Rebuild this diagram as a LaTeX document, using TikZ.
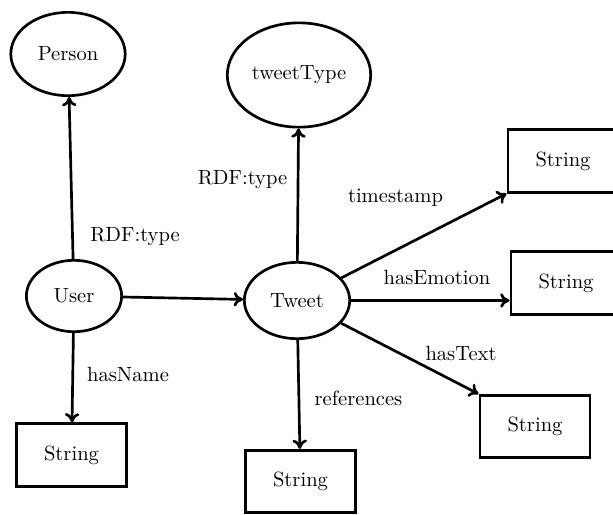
\documentclass[tikz,border=0pt]{standalone}
\usetikzlibrary{shapes.geometric,arrows.meta}
\begin{document}
\begin{tikzpicture}[x=0.486pt,y=-0.486pt,
  line width=1.3pt,
  ell/.style={draw,ellipse,inner sep=0pt},
  strbox/.style={draw,rectangle,inner sep=0pt,minimum width=53.6pt,minimum height=30.4pt},
  arr/.style={-{To[length=4.5pt,width=7pt]}},
  lbl/.style={anchor=base,inner sep=0pt}]
\path[use as bounding box] (0,0) rectangle (613,514);
\clip (0,0) rectangle (613,514);
\node[ell,minimum width=55.6pt,minimum height=40.5pt] (person) at (68,54) {Person};
\node[ell,minimum width=69.7pt,minimum height=50.7pt] (ttype) at (299,75) {tweetType};
\node[ell,minimum width=46.3pt,minimum height=34.7pt] (user) at (74,296) {User};
\node[ell,minimum width=51.2pt,minimum height=37.1pt] (tweet) at (297,300.5) {Tweet};
\node[strbox] (s0) at (71.5,455) {String};
\node[strbox] (s1) at (563,161) {String};
\node[strbox] (s2) at (566,283) {String};
\node[strbox] (s3) at (535,426.5) {String};
\node[strbox] (s4) at (300.5,481.5) {String};
\draw[arr] (user) -- (person);
\draw[arr] (user) -- (s0);
\draw[arr] (user) -- (tweet);
\draw[arr] (tweet) -- (ttype);
\draw[arr] (tweet) -- (s4);
\draw[arr] (tweet) -- (s1.south west);
\draw[arr] (tweet.east) -- (tweet.east -| s2.west);
\draw[arr] (tweet) -- (s3.north west);
\node[lbl] (l1) at (135,241) {RDF:type};
\node[lbl] (l2) at (242.5,184) {RDF:type};
\node[lbl] (l3) at (395.5,202) {timestamp};
\node[lbl] (l4) at (437,284) {hasEmotion};
\node[lbl] (l5) at (461,360) {hasText};
\node[lbl] (l6) at (358.5,405.5) {references};
\node[lbl] (l7) at (128,381.5) {hasName};
\end{tikzpicture}
\end{document}
